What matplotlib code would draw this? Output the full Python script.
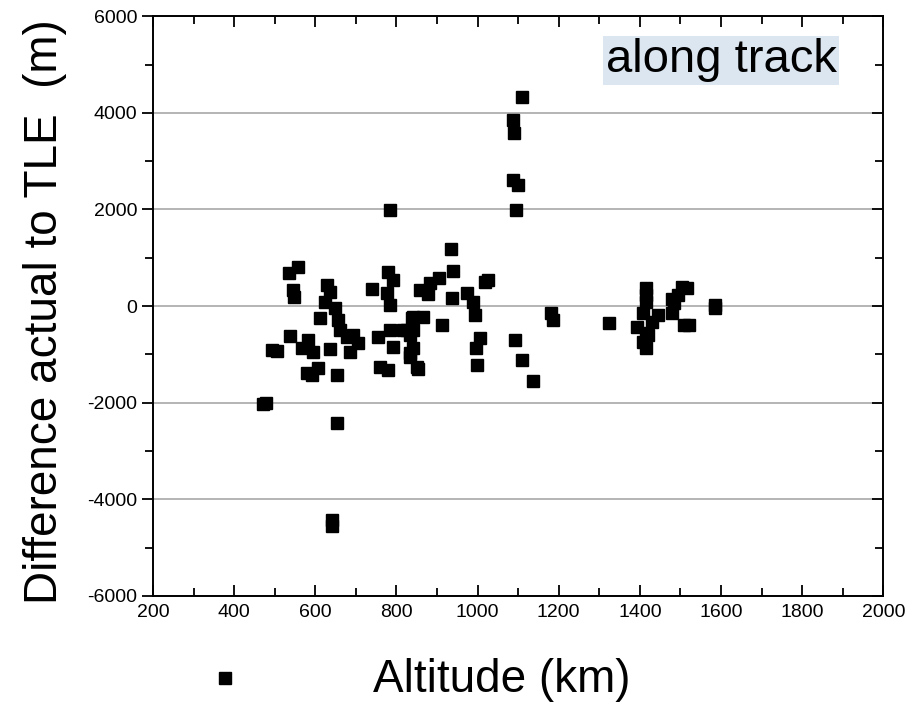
import matplotlib
matplotlib.use("Agg")
import matplotlib.pyplot as plt
from matplotlib.ticker import MultipleLocator

plt.rcParams['font.family'] = ['Liberation Sans', 'DejaVu Sans']
plt.rcParams['axes.unicode_minus'] = False

# altitude (km) and along-track difference (m)
altitude = [471, 478, 493, 505, 535, 557, 545, 547, 537, 582, 567, 594, 579, 606, 592,
            636, 653, 653, 641, 641, 628, 636, 624, 648, 611, 656, 660, 678, 692, 685,
            705, 739, 779, 791, 776, 784, 754, 784, 791, 816, 838, 840, 833, 850, 759,
            779, 857, 784, 934, 939, 904, 882, 877, 936, 973, 988, 1018, 1025, 993, 840,
            865, 912, 825, 833, 840, 833, 852, 1005, 995, 998, 1091, 1109, 1136, 1182, 1185,
            1109, 1087, 1089, 1087, 1099, 1094, 1325, 1414, 1416, 1414, 1407, 1392, 1416, 1407, 1414,
            1444, 1505, 1517, 1493, 1485, 1478, 1510, 1522, 1584, 1584, 1429, 1420, 1480]
diff = [-2028, -2007, -910, -931, 683, 807, 331, 186, -621, -703, -869, -952, -1386, -1283, -1428,
        -890, -1428, -2421, -4428, -4552, 434, 290, 83, -41, -248, -290, -497, -641, -600, -952,
        -766, 352, 703, 538, 269, 21, -641, -497, -848, -497, -248, -497, -972, -1262, -1262,
        -1324, 331, 1986, 1179, 724, 579, 476, 248, 166, 269, 83, 497, 538, -186, -228,
        -228, -393, -497, -600, -869, -1055, -1303, -662, -869, -1221, -703, -1117, -1552, -145, -290,
        4324, 3848, 3579, 2607, 2503, 1986, -352, 372, 228, 83, -145, -434, -559, -745, -869,
        -186, 393, 372, 228, 62, -145, -393, -393, 21, -40, -331, -600, 150]

fig = plt.figure(figsize=(9.22, 7.06), dpi=100)
ax = fig.add_axes([0.166, 0.156, 0.792, 0.821])

pts, = ax.plot(altitude, diff, linestyle='none', marker='s', markersize=9,
               color='black', zorder=3)

ax.set_xlim(200, 2000)
ax.set_ylim(-6000, 6000)
ax.xaxis.set_major_locator(MultipleLocator(200))
ax.xaxis.set_minor_locator(MultipleLocator(100))
ax.yaxis.set_major_locator(MultipleLocator(2000))
ax.yaxis.set_minor_locator(MultipleLocator(1000))

ax.grid(axis='y', which='major', color='#a8a8a8', linewidth=1.2)
ax.set_axisbelow(True)

ax.tick_params(which='both', top=True, right=True, labelsize=14, width=1.3,
               color='black', direction='in')
ax.tick_params(axis='y', which='both', left=True, direction='out')
ax.tick_params(axis='y', which='both', right=True)
ax.tick_params(which='major', length=8)
ax.tick_params(which='minor', length=6)
ax.tick_params(axis='x', pad=6)
for s in ax.spines.values():
    s.set_linewidth(1.4)

# right-side ticks point inward while left ones point out
for t in ax.yaxis.get_major_ticks() + ax.yaxis.get_minor_ticks():
    t.tick2line.set_marker(matplotlib.lines.TICKLEFT)

ax.set_xlabel('Altitude (km)', fontsize=33)
ax.xaxis.label.set_verticalalignment('center')
ax.xaxis.set_label_coords(0.477, -0.145)
ax.set_ylabel('Difference actual to TLE  (m)', fontsize=33)
ax.yaxis.label.set_verticalalignment('center')
ax.yaxis.set_label_coords(-0.148, 0.49)

ax.text(0.778, 0.924, 'along track', transform=ax.transAxes, fontsize=34,
        ha='center', va='center',
        bbox=dict(boxstyle='square,pad=0.05', facecolor='#dce6f1', edgecolor='none'))

fig.legend([pts], [''], loc='center', bbox_to_anchor=(225 / 922, 1 - 679 / 706),
           frameon=False, handlelength=0.5, handletextpad=0, borderpad=0)

fig.savefig('out.png', dpi=100)
